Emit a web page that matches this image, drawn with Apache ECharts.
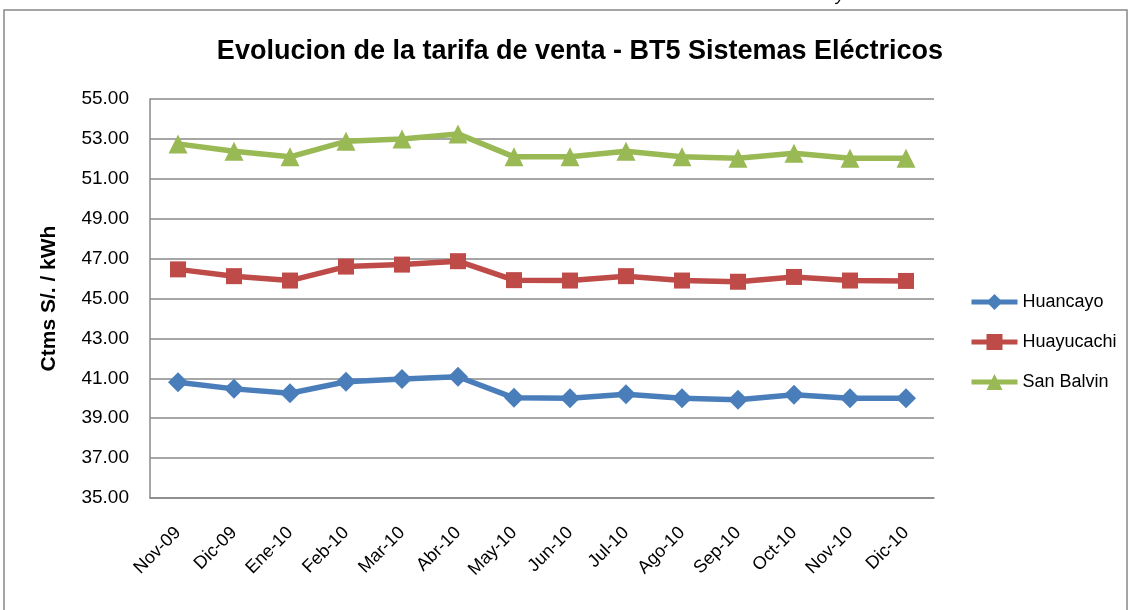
<!DOCTYPE html>
<html>
<head>
<meta charset="utf-8">
<script src="https://cdn.jsdelivr.net/npm/echarts@6/dist/echarts.min.js"></script>
<style>
  html, body { margin: 0; padding: 0; background: #fff; }
  #chart { width: 1130px; height: 610px; }
</style>
</head>
<body>
<div id="chart"></div>
<script>
// meses
var categories = ['Nov-09', 'Dic-09', 'Ene-10', 'Feb-10', 'Mar-10', 'Abr-10', 'May-10',
  'Jun-10', 'Jul-10', 'Ago-10', 'Sep-10', 'Oct-10', 'Nov-10', 'Dic-10'];
// tarifas por sistema
var huancayo = [40.80, 40.47, 40.25, 40.83, 40.97, 41.08, 40.02, 40.00, 40.20, 40.00, 39.93, 40.18, 40.00, 40.00];
var huayucachi = [46.46, 46.12, 45.90, 46.60, 46.70, 46.87, 45.92, 45.90, 46.12, 45.90, 45.84, 46.08, 45.90, 45.88];
var sanBalvin = [52.75, 52.38, 52.10, 52.88, 53.00, 53.25, 52.10, 52.10, 52.38, 52.10, 52.03, 52.28, 52.03, 52.03];

var chart = echarts.init(document.getElementById('chart'));
var font = 'Liberation Sans';

function serie(name, data, color, symbol, size) {
  return {
    name: name,
    type: 'line',
    data: data,
    symbol: symbol,
    symbolSize: size,
    lineStyle: { color: color, width: 5.5 },
    itemStyle: { color: color },
    animation: false
  };
}

chart.setOption({
  backgroundColor: '#fff',
  title: {
    text: 'Evolucion de la tarifa de venta - BT5 Sistemas Eléctricos',
    left: 575,
    textAlign: 'center',
    top: 33,
    textStyle: { fontFamily: font, fontSize: 27, fontWeight: 'bold', color: '#000' }
  },
  legend: {
    orient: 'vertical',
    left: 964,
    top: 288,
    itemGap: 22,
    itemWidth: 46,
    itemHeight: 20,
    lineStyle: { width: 5 },
    textStyle: { fontFamily: font, fontSize: 18, color: '#000' },
    data: ['Huancayo', 'Huayucachi', 'San Balvin']
  },
  grid: { left: 150, right: 196, top: 99, bottom: 112 },
  xAxis: {
    type: 'category',
    data: categories,
    axisLine: { lineStyle: { color: '#888', width: 1.5 } },
    axisTick: { show: false },
    axisLabel: {
      rotate: 45, interval: 0, margin: 32,
      fontFamily: font, fontSize: 18, color: '#000'
    }
  },
  yAxis: {
    type: 'value',
    min: 35, max: 55, interval: 2,
    name: 'Ctms S/. / kWh',
    nameLocation: 'middle',
    nameGap: 90,
    nameTextStyle: { fontFamily: font, fontSize: 21, fontWeight: 'bold', color: '#000' },
    axisLine: { show: true, lineStyle: { color: '#888', width: 1.5 } },
    axisTick: { show: false },
    splitLine: { lineStyle: { color: '#888', width: 1.5 } },
    axisLabel: {
      margin: 21, fontFamily: font, fontSize: 19, color: '#000',
      formatter: function (v) { return v.toFixed(2); }
    }
  },
  graphic: [
    {
      type: 'rect',
      shape: { x: 4, y: 10, width: 1123, height: 620 },
      style: { fill: null, stroke: '#888', lineWidth: 1.5 },
      silent: true
    },
    {
      type: 'text',
      left: 836, top: -14,
      style: { text: 'y', fontFamily: font, fontSize: 18, fontStyle: 'italic', fill: '#000' }
    }
  ],
  series: [
    serie('Huancayo', huancayo, '#4a7ebb', 'diamond', 20),
    serie('Huayucachi', huayucachi, '#be4b48', 'rect', 16),
    serie('San Balvin', sanBalvin, '#98b954', 'triangle', 19)
  ]
});
</script>
</body>
</html>
